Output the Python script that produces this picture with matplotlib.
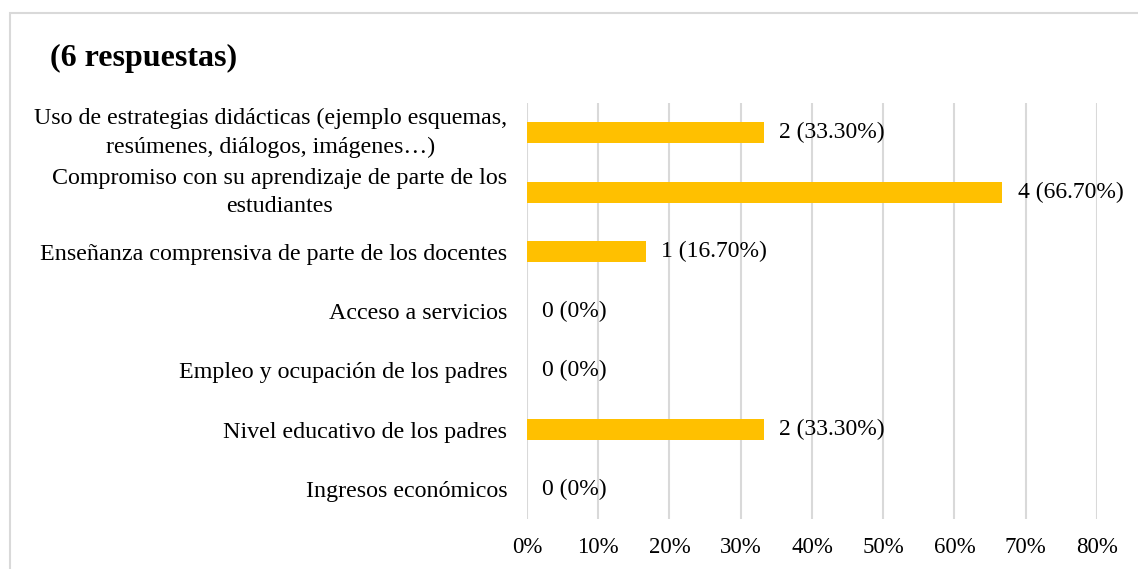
import matplotlib
matplotlib.use("Agg")
import matplotlib.pyplot as plt
from matplotlib.patches import Rectangle
from matplotlib.ticker import PercentFormatter

plt.rcParams['font.family'] = ['Liberation Serif', 'DejaVu Serif']

# datos (de arriba hacia abajo)
categorias = [
    "Uso de estrategias didácticas (ejemplo esquemas,\nresúmenes, diálogos, imágenes…)",
    "Compromiso con su aprendizaje de parte de los\nestudiantes",
    "Enseñanza comprensiva de parte de los docentes",
    "Acceso a servicios",
    "Empleo y ocupación de los padres",
    "Nivel educativo de los padres",
    "Ingresos económicos",
]
respuestas = [2, 4, 1, 0, 0, 2, 0]
porcentajes = [33.30, 66.70, 16.70, 0, 0, 33.30, 0]
etiquetas = ["2 (33.30%)", "4 (66.70%)", "1 (16.70%)", "0 (0%)",
             "0 (0%)", "2 (33.30%)", "0 (0%)"]
ticks_x = [0, 10, 20, 30, 40, 50, 60, 70, 80]

fig = plt.figure(figsize=(11.38, 5.69), dpi=100)
ax = fig.add_axes([0.463, 0.088, 0.501, 0.731])

# borde gris del gráfico
fig.patches.append(Rectangle((10 / 1138, -0.1), 1.2, 1 - 13 / 569 + 0.1,
                             transform=fig.transFigure, fill=False,
                             edgecolor='#D9D9D9', linewidth=1.5))

pos = list(range(len(categorias)))
ax.barh(pos, porcentajes, height=0.35, color='#FFC000', zorder=3)
for p, v, t in zip(pos, porcentajes, etiquetas):
    ax.annotate(t, (v, p), xytext=(11, 0), textcoords='offset points',
                va='center', ha='left', fontsize=17, color='black', zorder=4)

ax.set_ylim(len(categorias) - 0.5, -0.5)
ax.set_xlim(0, 80)
ax.set_xticks(ticks_x)
ax.xaxis.set_major_formatter(PercentFormatter(decimals=0))
ax.set_yticks(pos)
ax.set_yticklabels(categorias, fontsize=17.3, multialignment='center',
                   linespacing=1.45)
# etiquetas de dos líneas centradas verticalmente con la barra
for lbl in ax.get_yticklabels():
    if "\n" in lbl.get_text():
        lbl.set_va('center')
ax.tick_params(axis='y', length=0, pad=14)
ax.tick_params(axis='x', length=0, pad=13, labelsize=16.5)
ax.grid(axis='x', color='#D9D9D9', linewidth=1.5, zorder=0)
for s in ax.spines.values():
    s.set_visible(False)

fig.text(50 / 1138, 1 - 58 / 569, "(6 respuestas)", fontsize=23,
         fontweight='bold', va='center', ha='left')

fig.savefig("out.png", dpi=100)
